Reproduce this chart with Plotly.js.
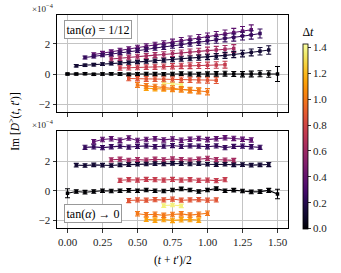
<!DOCTYPE html>
<html><head><meta charset="utf-8">
<script src="https://cdn.plot.ly/plotly-3.0.1.min.js"></script>
<style>html,body{margin:0;padding:0;background:#fff}#plot{width:341px;height:273px}</style>
</head><body><div id="plot"></div>
<script>
// Δt values of each series
const dtValues = [0, 0.125, 0.25, 0.375, 0.625, 0.75, 0.875, 1.0, 1.125, 1.375];

// (t+t')/2 positions for each Δt
const x_dt0   = [0,0.0625,0.125,0.1875,0.25,0.3125,0.375,0.4375,0.5,0.5625,0.625,0.6875,0.75,0.8125,0.875,0.9375,1.0,1.0625,1.125,1.1875,1.25,1.3125,1.375,1.4375,1.5];
const x_dt1   = [0.0625,0.125,0.1875,0.25,0.3125,0.375,0.4375,0.5,0.5625,0.625,0.6875,0.75,0.8125,0.875,0.9375,1.0,1.0625,1.125,1.1875,1.25,1.3125,1.375,1.4375];
const x_dt2   = [0.125,0.1875,0.25,0.3125,0.375,0.4375,0.5,0.5625,0.625,0.6875,0.75,0.8125,0.875,0.9375,1.0,1.0625,1.125,1.1875,1.25,1.3125,1.375];
const x_dt3   = [0.1875,0.25,0.3125,0.375,0.4375,0.5,0.5625,0.625,0.6875,0.75,0.8125,0.875,0.9375,1.0,1.0625,1.125,1.1875,1.25,1.3125];
const x_dt5   = [0.3125,0.375,0.4375,0.5,0.5625,0.625,0.6875,0.75,0.8125,0.875,0.9375,1.0,1.0625,1.125,1.1875];
const x_dt6   = [0.375,0.4375,0.5,0.5625,0.625,0.6875,0.75,0.8125,0.875,0.9375,1.0,1.0625,1.125];
const x_dt7   = [0.4375,0.5,0.5625,0.625,0.6875,0.75,0.8125,0.875,0.9375,1.0,1.0625];
const x_dt8   = [0.5,0.5625,0.625,0.6875,0.75,0.8125,0.875,0.9375,1.0];
const x_dt9   = [0.5625,0.625,0.6875,0.75,0.8125,0.875,0.9375];
const x_dt11  = [0.6875,0.75,0.8125];

// Top panel: tan(alpha) = 1/12   (units of 1e-4)
const top_dt0  = [0.0,0.0,0.02,-0.02,0.0,0.01,0.0,-0.02,0.0,0.02,0.0,-0.01,0.0,0.03,0.0,-0.02,0.0,0.01,0.02,0.0,-0.01,0.0,0.02,0.0,0.0];
const top_dt1  = [0.55,0.58,0.62,0.66,0.70,0.73,0.76,0.80,0.84,0.88,0.92,0.96,1.00,1.04,1.09,1.14,1.18,1.24,1.30,1.36,1.44,1.52,1.60];
const top_dt2  = [1.10,1.17,1.26,1.32,1.41,1.47,1.57,1.63,1.73,1.79,1.89,1.95,2.05,2.11,2.21,2.27,2.37,2.43,2.53,2.60,2.70];
const top_dt3  = [1.30,1.39,1.48,1.58,1.67,1.76,1.85,1.94,2.03,2.12,2.22,2.31,2.40,2.49,2.58,2.67,2.76,2.86,2.95];
const top_dt5  = [1.00,1.06,1.10,1.16,1.20,1.26,1.30,1.36,1.40,1.46,1.50,1.56,1.60,1.65,1.70];
const top_dt6  = [0.40,0.42,0.44,0.46,0.48,0.50,0.52,0.54,0.55,0.57,0.58,0.60,0.62];
const top_dt7  = [-0.30,-0.31,-0.33,-0.34,-0.35,-0.36,-0.38,-0.39,-0.40,-0.41,-0.42];
const top_dt8  = [-0.73,-0.79,-0.85,-0.90,-0.96,-1.02,-1.07,-1.12,-1.18];
const top_dt9  = [-0.95,-0.98,-1.00,-1.03,-1.05,-1.08,-1.10];
const top_dt11 = [-0.60,-0.65,-0.70];

const topErr_dt0  = [0.06,0.06,0.07,0.07,0.08,0.08,0.09,0.09,0.10,0.10,0.11,0.11,0.12,0.12,0.13,0.13,0.14,0.15,0.16,0.17,0.18,0.19,0.20,0.22,0.50];
const topErr_dt1  = [0.08,0.08,0.09,0.09,0.10,0.10,0.11,0.11,0.12,0.12,0.13,0.14,0.15,0.16,0.17,0.18,0.19,0.20,0.21,0.22,0.23,0.25,0.28];
const topErr_dt2  = [0.10,0.10,0.11,0.11,0.12,0.12,0.13,0.14,0.15,0.16,0.17,0.18,0.19,0.20,0.21,0.22,0.23,0.24,0.26,0.28,0.30];
const topErr_dt3  = [0.12,0.12,0.13,0.14,0.15,0.16,0.17,0.18,0.19,0.20,0.21,0.22,0.23,0.24,0.25,0.26,0.28,0.30,0.32];
const topErr_dt5  = [0.15,0.15,0.16,0.16,0.17,0.17,0.18,0.19,0.20,0.21,0.22,0.23,0.24,0.25,0.26];
const topErr_dt6  = [0.15,0.15,0.16,0.16,0.17,0.17,0.18,0.18,0.19,0.20,0.21,0.22,0.23];
const topErr_dt7  = [0.15,0.15,0.16,0.16,0.17,0.17,0.18,0.18,0.19,0.20,0.21];
const topErr_dt8  = [0.16,0.16,0.17,0.17,0.18,0.18,0.19,0.20,0.21];
const topErr_dt9  = [0.14,0.14,0.15,0.15,0.15,0.16,0.16];
const topErr_dt11 = [0.12,0.12,0.12];

// Bottom panel: tan(alpha) -> 0
const bot_dt0  = [-0.17,-0.05,-0.10,-0.05,0.0,-0.02,0.0,0.02,0.0,0.05,0.0,-0.02,0.05,0.12,0.05,-0.05,0.05,0.14,0.0,0.04,-0.02,-0.08,-0.06,0.02,-0.22];
const bot_dt1  = [1.72,1.70,1.74,1.72,1.70,1.74,1.76,1.78,1.80,1.82,1.80,1.84,1.82,1.80,1.82,1.78,1.76,1.78,1.74,1.76,1.72,1.74,1.76];
const bot_dt2  = [2.92,2.95,2.90,2.96,3.00,2.94,2.98,3.02,2.96,3.00,3.04,2.98,3.02,3.00,2.96,3.02,2.90,2.98,3.00,2.96,2.92];
const bot_dt3  = [3.30,3.45,3.50,3.40,3.55,3.38,3.45,3.50,3.42,3.48,3.40,3.46,3.52,3.44,3.50,3.56,3.52,3.46,3.42];
const bot_dt5  = [2.08,2.12,2.05,2.10,2.06,2.12,2.08,2.14,2.10,2.06,2.12,2.18,2.10,2.06,2.04];
const bot_dt6  = [0.70,0.74,0.72,0.76,0.74,0.72,0.76,0.72,0.74,0.70,0.72,0.68,0.74];
const bot_dt7  = [-0.66,-0.62,-0.64,-0.60,-0.62,-0.56,-0.64,-0.62,-0.60,-0.64,-0.62];
const bot_dt8  = [-1.55,-1.62,-1.58,-1.66,-1.60,-1.56,-1.64,-1.58,-1.52];
const bot_dt9  = [-1.92,-1.98,-1.94,-2.00,-1.96,-1.94,-1.98];
const bot_dt11 = [-1.00,-0.96,-1.02];

const botErr_dt0  = [0.30,0.12,0.12,0.12,0.12,0.12,0.12,0.12,0.12,0.12,0.12,0.12,0.12,0.12,0.12,0.12,0.12,0.12,0.12,0.12,0.12,0.12,0.12,0.14,0.32];
const botErr_dt1  = [0.12,0.12,0.12,0.12,0.12,0.12,0.12,0.12,0.12,0.12,0.12,0.12,0.12,0.12,0.12,0.12,0.12,0.12,0.12,0.12,0.12,0.12,0.14];
const botErr_dt2  = [0.14,0.14,0.14,0.14,0.14,0.14,0.14,0.14,0.14,0.14,0.14,0.14,0.14,0.14,0.14,0.14,0.14,0.14,0.14,0.14,0.14];
const botErr_dt3  = [0.15,0.15,0.15,0.15,0.15,0.15,0.15,0.15,0.15,0.15,0.15,0.15,0.15,0.15,0.15,0.15,0.15,0.15,0.15];
const botErr_dt5  = [0.14,0.14,0.14,0.14,0.14,0.14,0.14,0.14,0.14,0.14,0.14,0.14,0.14,0.14,0.14];
const botErr_dt6  = [0.14,0.14,0.14,0.14,0.14,0.14,0.14,0.14,0.14,0.14,0.14,0.14,0.14];
const botErr_dt7  = [0.14,0.14,0.14,0.14,0.14,0.14,0.14,0.14,0.14,0.14,0.14];
const botErr_dt8  = [0.15,0.15,0.15,0.15,0.15,0.15,0.15,0.15,0.15];
const botErr_dt9  = [0.15,0.15,0.15,0.15,0.15,0.15,0.15];
const botErr_dt11 = [0.12,0.12,0.12];

const xTicks = [0, 0.25, 0.5, 0.75, 1.0, 1.25, 1.5];
const xTickText = ['0.00','0.25','0.50','0.75','1.00','1.25','1.50'];
const yTicks = [-2, 0, 2];
const yTickText = ['\u22122','0','2'];
const cbTicks = [0,0.2,0.4,0.6,0.8,1.0,1.2,1.4];
const cbTickText = ['0.0','0.2','0.4','0.6','0.8','1.0','1.2','1.4'];

const CMAX = 1.43;
const infernoHex = ['#000004','#0b0724','#160b39','#280b53','#420a68','#57106e','#6a176e','#801f6c','#932667','#a82e5f','#bc3754','#cc4248','#dd513a','#ea632a','#f37819','#fa8d0b','#fca50a','#fbbe23','#f6d746','#f1ed71','#fcffa4'];
const infernoScale = infernoHex.map((c,i)=>[i/(infernoHex.length-1), c]);
function hex2rgb(h){return [parseInt(h.slice(1,3),16),parseInt(h.slice(3,5),16),parseInt(h.slice(5,7),16)];}
function colorFor(v){
  let t = Math.max(0, Math.min(1, v/CMAX));
  const n = infernoHex.length-1;
  const f = t*n; const i = Math.min(n-1, Math.floor(f)); const r = f-i;
  const a = hex2rgb(infernoHex[i]), b = hex2rgb(infernoHex[i+1]);
  const c = a.map((ai,k)=>Math.round(ai+(b[k]-ai)*r));
  return 'rgb('+c.join(',')+')';
}

const xs = [x_dt0,x_dt1,x_dt2,x_dt3,x_dt5,x_dt6,x_dt7,x_dt8,x_dt9,x_dt11];
const tops = [top_dt0,top_dt1,top_dt2,top_dt3,top_dt5,top_dt6,top_dt7,top_dt8,top_dt9,top_dt11];
const topErrs = [topErr_dt0,topErr_dt1,topErr_dt2,topErr_dt3,topErr_dt5,topErr_dt6,topErr_dt7,topErr_dt8,topErr_dt9,topErr_dt11];
const bots = [bot_dt0,bot_dt1,bot_dt2,bot_dt3,bot_dt5,bot_dt6,bot_dt7,bot_dt8,bot_dt9,bot_dt11];
const botErrs = [botErr_dt0,botErr_dt1,botErr_dt2,botErr_dt3,botErr_dt5,botErr_dt6,botErr_dt7,botErr_dt8,botErr_dt9,botErr_dt11];

const traces = [];
function addSeries(x, y, e, dt, xa, ya){
  const col = colorFor(dt);
  traces.push({
    type:'scatter', mode:'lines+markers', x:x, y:y, xaxis:xa, yaxis:ya,
    line:{color:col, width:1.1},
    marker:{symbol:'square', size:3.5, color:col},
    error_y:{type:'data', array:e, visible:true, color:col, thickness:1.1, width:2.5},
    showlegend:false, hoverinfo:'skip'
  });
}
// draw from high dt to low so dark series are on top
for (let i = dtValues.length-1; i >= 0; i--) {
  addSeries(xs[i], tops[i], topErrs[i], dtValues[i], 'x', 'y');
  addSeries(xs[i], bots[i], botErrs[i], dtValues[i], 'x2', 'y2');
}
const serif = 'Liberation Serif, serif';
// colorbar carrier
traces.push({
  type:'scatter', mode:'markers', x:[null], y:[null], xaxis:'x', yaxis:'y', showlegend:false, hoverinfo:'skip',
  marker:{color:[0], cmin:0, cmax:CMAX, colorscale:infernoScale, showscale:true, size:0.1,
    colorbar:{
      x:1.064, xanchor:'left', xref:'paper', y:0.955, yanchor:'top', yref:'paper',
      lenmode:'pixels', len:204, thicknessmode:'pixels', thickness:5,
      outlinewidth:0.8, outlinecolor:'#000', xpad:0, ypad:0,
      tickvals:cbTicks, ticktext:cbTickText, ticks:'outside', ticklen:3, tickwidth:0.8, tickcolor:'#000',
      tickfont:{family:serif, size:11, color:'#222'},
      title:{text:'\u0394<i>t</i>', side:'top', font:{family:serif, size:12, color:'#000'}}
    }}
});

const font = {family:serif, size:11, color:'#222'};
const axBase = {
  range:[-0.075,1.575], tickvals:xTicks, ticktext:xTickText, ticks:'outside', ticklen:3.5, tickwidth:0.8, tickcolor:'#000',
  showgrid:true, gridcolor:'#c4c4c4', gridwidth:1, zeroline:false, showline:true, linecolor:'#000', linewidth:1, mirror:true,
  tickfont:font
};
const yBase = {
  tickvals:yTicks, ticktext:yTickText, ticks:'outside', ticklen:3.5, tickwidth:0.8, tickcolor:'#000',
  showgrid:true, gridcolor:'#c4c4c4', gridwidth:1, zeroline:false, showline:true, linecolor:'#000', linewidth:1, mirror:true,
  tickfont:font
};

const layout = {
  width:341, height:273,
  margin:{l:57, r:53, t:15, b:45, pad:0},
  paper_bgcolor:'#fff', plot_bgcolor:'#fff',
  font:font,
  showlegend:false,
  xaxis:Object.assign({}, axBase, {anchor:'y', showticklabels:false, domain:[0,1]}),
  xaxis2:Object.assign({}, axBase, {anchor:'y2', showticklabels:true, domain:[0,1]}),
  yaxis:Object.assign({}, yBase, {anchor:'x', domain:[0.5446,1], range:[-2.53,3.93]}),
  yaxis2:Object.assign({}, yBase, {anchor:'x2', domain:[0,0.4554], range:[-2.51,4.02]}),
  annotations:[
    {xref:'paper', yref:'paper', x:-0.005, y:0.995, xanchor:'right', yanchor:'bottom', showarrow:false,
     text:'\u00d710<sup>\u22124</sup>', font:{family:serif, size:9, color:'#222'}},
    {xref:'paper', yref:'paper', x:-0.005, y:0.451, xanchor:'right', yanchor:'bottom', showarrow:false,
     text:'\u00d710<sup>\u22124</sup>', font:{family:serif, size:9, color:'#222'}},
    {xref:'paper', yref:'paper', x:0.0303, y:0.975, xanchor:'left', yanchor:'top', showarrow:false,
     text:'tan(<i>\u03b1</i>) = 1/12', bgcolor:'#fff', bordercolor:'#999', borderwidth:1, borderpad:1.5,
     font:{family:serif, size:12, color:'#000'}},
    {xref:'paper', yref:'paper', x:0.0303, y:0.022, xanchor:'left', yanchor:'bottom', showarrow:false,
     text:'tan(<i>\u03b1</i>) \u2192 0', bgcolor:'#fff', bordercolor:'#999', borderwidth:1, borderpad:1.5,
     font:{family:serif, size:12, color:'#000'}},
    {xref:'paper', yref:'paper', x:-0.185, y:0.5, xanchor:'center', yanchor:'middle', showarrow:false, textangle:-90,
     text:'Im [<i>D</i><sup>></sup>(<i>t</i>, <i>t</i>\u2032)]', font:{family:serif, size:11.5, color:'#000'}},
    {xref:'paper', yref:'paper', x:0.5, y:-0.115, xanchor:'center', yanchor:'top', showarrow:false,
     text:'(<i>t</i> + <i>t</i>\u2032)/2', font:{family:serif, size:11.5, color:'#000'}}
  ]
};

Plotly.newPlot('plot', traces, layout, {staticPlot:true, displayModeBar:false});
</script>
</body></html>
